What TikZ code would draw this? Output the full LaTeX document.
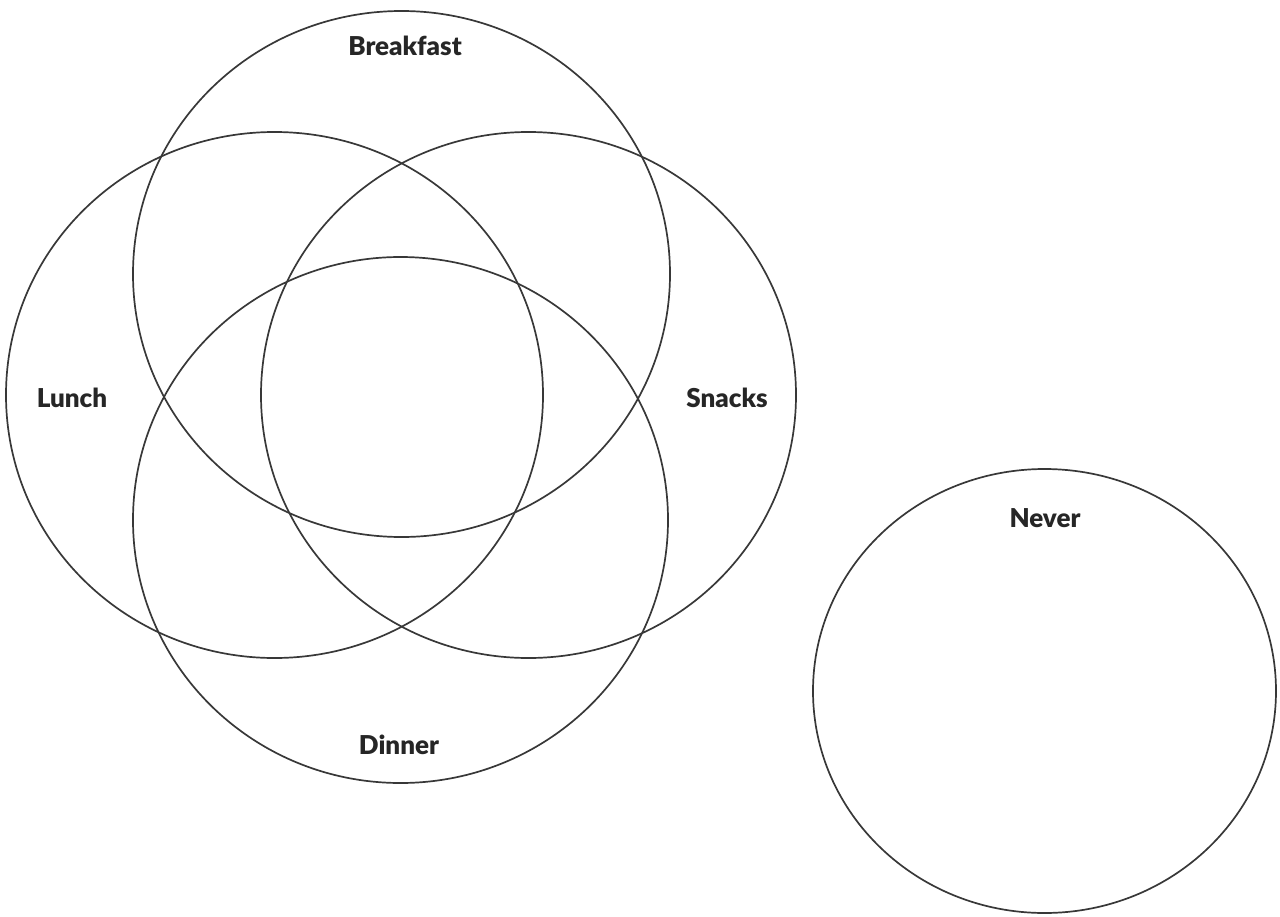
\documentclass[tikz,border=0pt]{standalone}
\usepackage{fontspec}
\setmainfont{Lato}[BoldFont={Lato Black}]
\begin{document}
\begin{tikzpicture}[x=1pt,y=-1pt,
  ring/.style={draw=black!78,line width=1.7pt},
  tag/.style={anchor=base,font=\fontsize{26}{30}\selectfont\bfseries,text=black!85}]
\useasboundingbox (0,0) rectangle (1280,916);
% the four meals
\draw[ring] (401.5,274) ellipse[x radius=268.5,y radius=263];
\draw[ring] (274.5,395) ellipse[x radius=268.5,y radius=263];
\draw[ring] (528.5,395) ellipse[x radius=267.5,y radius=263];
\draw[ring] (400.5,520) ellipse[x radius=267.5,y radius=263];
% apart from the rest
\draw[ring] (1044.5,691) ellipse[x radius=231.5,y radius=222];
\node[tag] (breakfast) at (405,55) {Breakfast};
\node[tag] (lunch) at (72,407) {Lunch};
\node[tag] (snacks) at (727,407) {Snacks};
\node[tag] (dinner) at (399,754) {Dinner};
\node[tag] (never) at (1045,527) {Never};
\end{tikzpicture}
\end{document}
